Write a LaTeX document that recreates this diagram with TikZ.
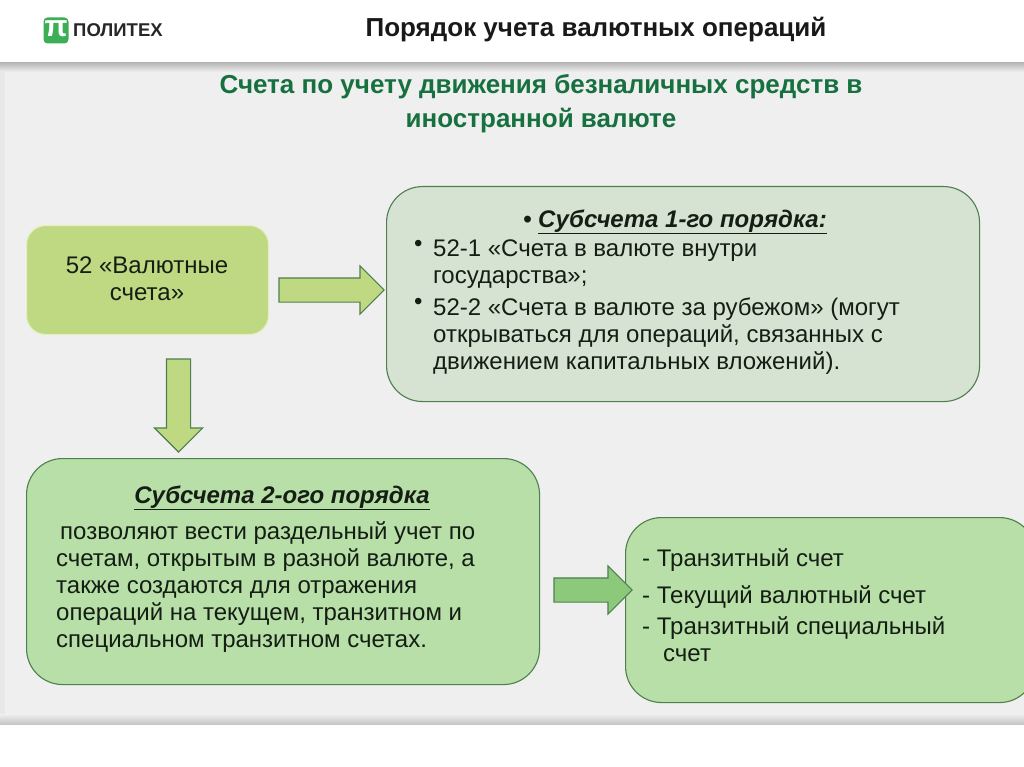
\documentclass[tikz,border=0pt]{standalone}
\usepackage{fontspec}
\setmainfont{Liberation Sans}
\usetikzlibrary{shapes.arrows,shadows.blur}
\definecolor{panelgray}{HTML}{EFEFEF}
\definecolor{titlegreen}{HTML}{17703F}
\definecolor{logogreen}{HTML}{3BAE56}
\definecolor{lime}{HTML}{BFD982}
\definecolor{limeedge}{HTML}{E4EFC2}
\definecolor{sage}{HTML}{D6E3D3}
\definecolor{mint}{HTML}{B8DFA8}
\definecolor{darkedge}{HTML}{4F7F4F}
\definecolor{arrowgreen}{HTML}{8CC97A}
\definecolor{ink}{HTML}{141E14}
\tikzset{
  x=1pt,y=-1pt,
  box/.style={draw=darkedge,line width=1.1pt,rounded corners=36pt,anchor=north west,inner sep=0pt},
  blockarrow/.style={shape=single arrow,draw=darkedge,line width=1.1pt,fill=lime,inner sep=11.5pt,
    single arrow head extend=12pt,single arrow tip angle=90,single arrow head indent=0pt},
  body/.style={anchor=north west,inner sep=0pt,font=\fontsize{24}{27}\selectfont,text=ink,align=left},
}
\begin{document}
\begin{tikzpicture}
\useasboundingbox (0,0) rectangle (1024,767);
\fill[white] (0,0) rectangle (1024,767);
\shade[top color=gray!55,bottom color=panelgray] (0,63) rectangle (1024,72);
\fill[panelgray] (5,72) rectangle (1024,714);
\fill[panelgray!97!black] (0,72) rectangle (5,714);
\shade[top color=panelgray,bottom color=gray!45] (0,714) rectangle (1024,724);
% logo
\node[fill=logogreen,rounded corners=4pt,minimum width=25pt,minimum height=26pt,inner sep=0pt] (logo) at (56,30.5) {};
\node[text=white,font=\fontsize{30}{30}\selectfont\bfseries,inner sep=0pt] (logopi) at (56,28.5) {π};
\node[anchor=west,inner sep=0pt,font=\fontsize{18.5}{20}\selectfont\bfseries,text=black!85] (logotext) at (73,30.5) {ПОЛИТЕХ};
% titles
\node[inner sep=0pt,font=\fontsize{26}{30}\selectfont\bfseries,text=black!90] (title) at (596,30) {Порядок учета валютных операций};
\node[inner sep=0pt,font=\fontsize{26}{34}\selectfont\bfseries,text=titlegreen,align=center] (subtitle) at (541,104) {Счета по учету движения безналичных средств в\\иностранной валюте};
% boxes
\node[box,draw=limeedge,fill=lime,rounded corners=19pt,minimum width=242pt,minimum height=109pt] (acc) at (26,225) {};
\node[box,fill=sage,minimum width=593pt,minimum height=215pt] (sub1) at (386,186) {};
\node[box,fill=mint,minimum width=513pt,minimum height=226pt] (sub2) at (26,458) {};
\node[box,fill=mint,minimum width=410pt,minimum height=185pt] (list) at (625,517) {};
% arrows
\node[blockarrow,minimum height=105pt,minimum width=46pt] (a1) at (325.5,290) {};
\node[blockarrow,rotate=-90,minimum height=93pt,minimum width=48pt] (a2) at (178.5,399.5) {};
\node[blockarrow,fill=arrowgreen,minimum height=78pt,minimum width=48pt] (a3) at (587,590) {};
% text
\node[inner sep=0pt,font=\fontsize{24}{27}\selectfont,text=ink,align=center] (acctext) at (147,279) {52 «Валютные\\счета»};
\node[inner sep=0pt,font=\fontsize{24}{27}\selectfont\bfseries\itshape,text=ink] (sub1head) at (675,222) {• \underline{Субсчета 1-го порядка:}};
\node[body] (s1a) at (414,240) {•};
\node[body] (s1b) at (433,240) {52-1 «Счета в валюте внутри\\государства»;};
\node[body] (s1c) at (414,298) {•};
\node[body] (s1d) at (433,298) {52-2 «Счета в валюте за рубежом» (могут\\открываться для операций, связанных с\\движением капитальных вложений).};
\node[inner sep=0pt,font=\fontsize{24}{27}\selectfont\bfseries\itshape,text=ink] (sub2head) at (282,498) {\underline{Субсчета 2-ого порядка}};
\node[body] (s2) at (56,521) {\hspace*{4pt}позволяют вести раздельный учет по\\счетам, открытым в разной валюте, а\\также создаются для отражения\\операций на текущем, транзитном и\\специальном транзитном счетах.};
\node[body] (l1) at (642,548) {- Транзитный счет};
\node[body] (l2) at (642,585) {- Текущий валютный счет};
\node[body] (l3) at (642,616) {- Транзитный специальный\\\hspace*{21pt}счет};
\end{tikzpicture}
\end{document}
